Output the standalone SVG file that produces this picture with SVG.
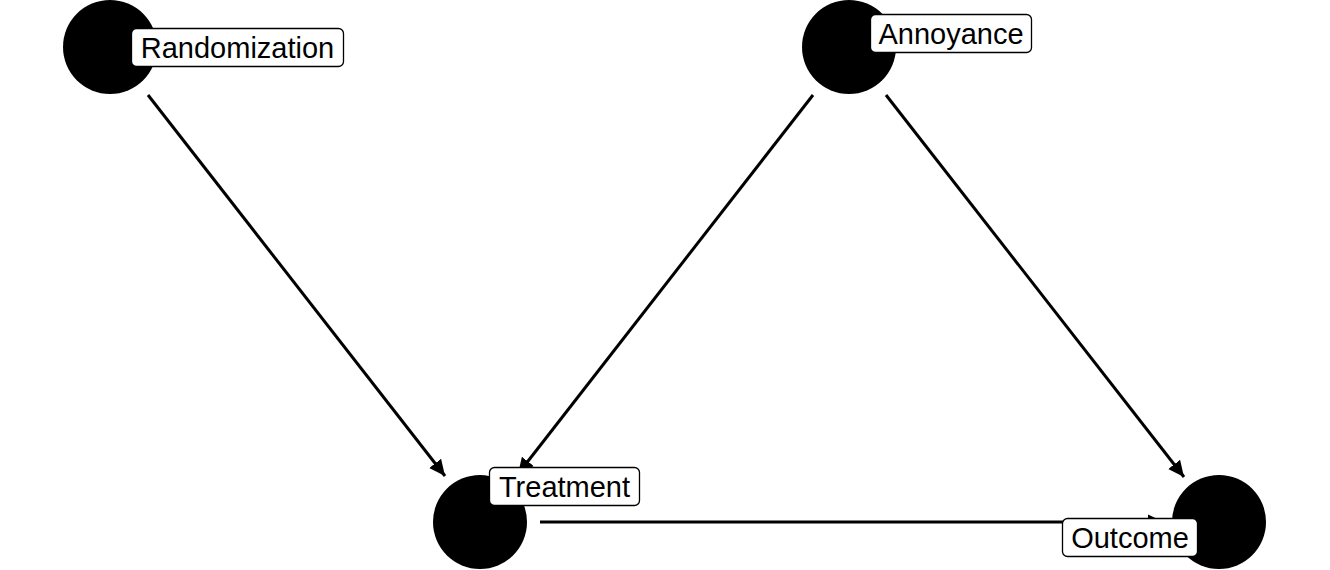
<svg xmlns="http://www.w3.org/2000/svg" width="1330" height="570" viewBox="0 0 1330 570">
<style>
.edge{stroke:#000;stroke-width:3;fill:none;marker-end:url(#ah)}
.node{fill:#000}
.lbl{fill:#fff;stroke:#000;stroke-width:1.3}
text{font-family:"Liberation Sans",Arial,sans-serif;font-size:29px;fill:#000}
</style>
<defs>
<marker id="ah" markerWidth="18" markerHeight="16" refX="16" refY="8" orient="auto" markerUnits="userSpaceOnUse">
<path d="M0,0.5 L16,8 L0,15.5 Z" fill="#000"/>
</marker>
</defs>
<rect width="1330" height="570" fill="#fff"/>
<g id="connectors">
<line class="edge" x1="148" y1="95" x2="445" y2="476"/>
<line class="edge" x1="813" y1="95" x2="518" y2="474"/>
<line class="edge" x1="886" y1="95" x2="1184" y2="477"/>
<line class="edge" x1="540" y1="522" x2="1164" y2="522"/>
</g>
<g id="node-randomization">
<circle class="node" cx="110" cy="47" r="47"/>
<rect class="lbl" x="131.5" y="28.5" width="212" height="38" rx="5"/>
<text x="237.5" y="58" text-anchor="middle">Randomization</text>
</g>
<g id="node-annoyance">
<circle class="node" cx="849" cy="47" r="47"/>
<rect class="lbl" x="870.5" y="14.5" width="161" height="38" rx="5"/>
<text x="951" y="44" text-anchor="middle">Annoyance</text>
</g>
<g id="node-treatment">
<circle class="node" cx="480" cy="522" r="47"/>
<rect class="lbl" x="489.5" y="467.5" width="150" height="38" rx="5"/>
<text x="564.5" y="497" text-anchor="middle">Treatment</text>
</g>
<g id="node-outcome">
<circle class="node" cx="1219" cy="522" r="47"/>
<rect class="lbl" x="1062.5" y="518.5" width="135" height="38" rx="5"/>
<text x="1130" y="548" text-anchor="middle">Outcome</text>
</g>
</svg>
